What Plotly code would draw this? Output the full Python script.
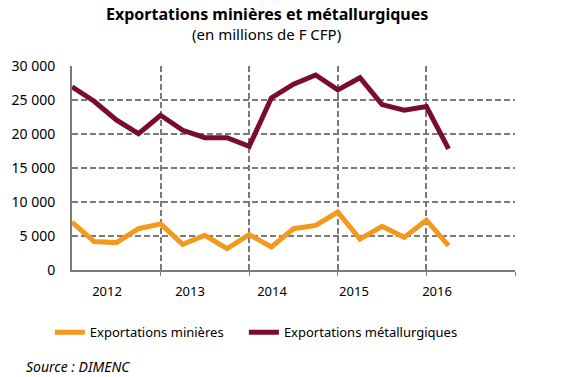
import plotly.graph_objects as go

quarters = ["T1 2012", "T2 2012", "T3 2012", "T4 2012",
            "T1 2013", "T2 2013", "T3 2013", "T4 2013",
            "T1 2014", "T2 2014", "T3 2014", "T4 2014",
            "T1 2015", "T2 2015", "T3 2015", "T4 2015",
            "T1 2016", "T2 2016"]
x_pos = list(range(len(quarters)))

minieres = [7050, 4180, 4030, 6070, 6780, 3760, 5110, 3150, 5210,
            3390, 6070, 6560, 8520, 4550, 6430, 4800, 7320, 3590]
metallurgiques = [26930, 24820, 22070, 20050, 22750, 20540, 19460, 19460, 18180,
                  25300, 27320, 28670, 26480, 28280, 24320, 23490, 24030, 17810]

year_labels = ["2012", "2013", "2014", "2015", "2016"]
year_label_pos = [1.58, 5.33, 9.03, 12.73, 16.48]
year_bounds = [4, 8, 12, 16, 20]
y_ticks = [0, 5000, 10000, 15000, 20000, 25000, 30000]
y_tick_text = ["0", "5 000", "10 000", "15 000", "20 000", "25 000", "30 000"]

FONT = "Noto Sans"
GRID = "#7a7a7a"

fig = go.Figure()
fig.add_trace(go.Scatter(x=x_pos, y=minieres, mode="lines", name="Exportations minières",
                         line=dict(color="#F39A1E", width=5), text=quarters, legend="legend"))
fig.add_trace(go.Scatter(x=x_pos, y=metallurgiques, mode="lines", name="Exportations métallurgiques",
                         line=dict(color="#7A0C2E", width=5), text=quarters, legend="legend2"))
# invisible helper trace so the label axis is rendered
fig.add_trace(go.Scatter(x=[], y=[], xaxis="x2", showlegend=False, hoverinfo="skip"))

leg_common = dict(orientation="h", y=-0.305, yanchor="middle", xanchor="left",
                  font=dict(size=13, family=FONT), bgcolor="rgba(0,0,0,0)")

fig.update_layout(
    width=565, height=377,
    margin=dict(l=72, r=50, t=66, b=107, autoexpand=False),
    paper_bgcolor="white", plot_bgcolor="white",
    font=dict(family=FONT, color="#000000", size=14),
    showlegend=True,
    legend=dict(x=-0.05, **leg_common),
    legend2=dict(x=0.388, **leg_common),
    xaxis=dict(range=[0, 20], tickmode="array", tickvals=year_bounds, showticklabels=False,
               showgrid=True, gridcolor=GRID, gridwidth=1.5, griddash="6px,3px",
               zeroline=False, showline=True, linecolor=GRID, linewidth=2,
               ticks="outside", ticklen=4, tickcolor=GRID, tickwidth=1, automargin=False),
    xaxis2=dict(range=[0, 20], overlaying="x", side="bottom", tickmode="array",
                tickvals=year_label_pos, ticktext=year_labels, showgrid=False, zeroline=False,
                showline=False, ticks="", tickfont=dict(size=13, family=FONT), automargin=False,
                ticklabelstandoff=12),
    yaxis=dict(range=[0, 30000], tickmode="array", tickvals=y_ticks, ticktext=y_tick_text,
               showgrid=True, gridcolor=GRID, gridwidth=1.5, griddash="6px,3px",
               zeroline=False, showline=True, linecolor=GRID, linewidth=2,
               ticks="", ticklabelstandoff=12, tickfont=dict(size=14, family=FONT),
               automargin=False),
)

fig.add_annotation(text="<b>Exportations minières et métallurgiques</b>", xref="paper", yref="paper",
                   x=0.44, y=1.0, yanchor="middle", yshift=52, showarrow=False,
                   font=dict(size=16, family=FONT))
fig.add_annotation(text="(en millions de F CFP)", xref="paper", yref="paper",
                   x=0.44, y=1.0, yanchor="middle", yshift=32, showarrow=False,
                   font=dict(size=15, family=FONT))
fig.add_annotation(text="<i>Source : DIMENC</i>", xref="paper", yref="paper",
                   x=-0.105, xanchor="left", y=0, yanchor="middle", yshift=-96, showarrow=False,
                   borderpad=0, font=dict(size=14, family=FONT))

fig.write_html("out.html", config={"displayModeBar": False},
               post_script="document.body.style.margin='0';")
